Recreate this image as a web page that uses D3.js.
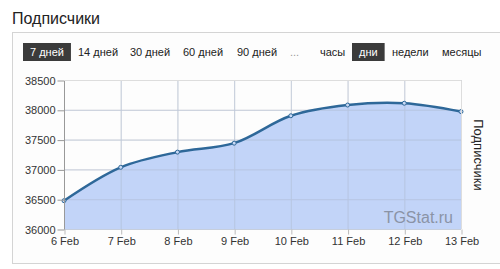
<html>
<head>
    <script src="https://d3js.org/d3.v7.min.js"></script>
    <style>
        body {
            margin: 0;
            background: #fff;
            font-family: "Liberation Sans", Arial, Helvetica, sans-serif;
        }
        svg { display: block; }
    </style>
</head>
<body>
<svg id="chart"></svg>
<script>
    // data
    let dates = ["6 Feb", "7 Feb", "8 Feb", "9 Feb", "10 Feb", "11 Feb", "12 Feb", "13 Feb"];
    let subscribers = [36475, 37035, 37290, 37440, 37900, 38080, 38110, 37970];
    let yTicks = [36000, 36500, 37000, 37500, 38000, 38500];
    let periodButtons = ["7 дней", "14 дней", "30 дней", "60 дней", "90 дней", "..."];
    let unitButtons = ["часы", "дни", "недели", "месяцы"];

    let width = 500, height = 269;
    let svg = d3.select("#chart").attr("width", width).attr("height", height);

    // title
    svg.append("text")
        .attr("x", 12).attr("y", 24)
        .attr("font-size", 16).attr("fill", "#222")
        .text("Подписчики");

    // panel
    svg.append("rect")
        .attr("x", 12.5).attr("y", 32.5)
        .attr("width", 500).attr("height", 231)
        .attr("fill", "#fdfdfd")
        .attr("stroke", "#d4d4d4");

    // buttons
    function drawButtons(labels, xs, active) {
        let g = svg.append("g");
        labels.forEach((t, i) => {
            let txt = g.append("text")
                .attr("x", xs[i]).attr("y", 56)
                .attr("font-size", 11)
                .attr("fill", t == "..." ? "#999" : "#222")
                .text(t);
            if (t == active) {
                let w = txt.node().getComputedTextLength();
                g.insert("rect", "text")
                    .attr("x", xs[i] - 7).attr("y", 43)
                    .attr("width", w + 14).attr("height", 18)
                    .attr("fill", "#3b3b3b");
                txt.attr("fill", "#fff");
            }
        });
    }
    drawButtons(periodButtons, [30, 78, 130, 183, 237, 290], "7 дней");
    drawButtons(unitButtons, [320, 359, 392, 442], "дни");

    let margin = {left: 64, right: 39, top: 80, bottom: 40};
    let x = d3.scalePoint().domain(dates).range([64, 461]);
    let y = d3.scaleLinear().domain([36000, 38500]).range([229, 80]);

    // grid
    svg.append("g").selectAll("line").data(yTicks).enter().append("line")
        .attr("x1", 64).attr("x2", 461)
        .attr("y1", d => y(d) + 0.5).attr("y2", d => y(d) + 0.5)
        .attr("stroke", "#ddd");
    svg.append("g").selectAll("line").data(dates).enter().append("line")
        .attr("x1", d => x(d) + 0.5).attr("x2", d => x(d) + 0.5)
        .attr("y1", 80).attr("y2", 229)
        .attr("stroke", "#ddd");

    let curve = d3.curveCatmullRom.alpha(0.5);
    let area = d3.area()
        .x((d, i) => x(dates[i]))
        .y0(y(36000))
        .y1(d => y(d))
        .curve(curve);
    let line = d3.line()
        .x((d, i) => x(dates[i]))
        .y(d => y(d))
        .curve(curve);

    svg.append("path").datum(subscribers)
        .attr("d", area)
        .attr("fill", "#aec6f5")
        .attr("fill-opacity", 0.75);

    // grid over the fill, faint
    svg.append("g").selectAll("line").data(dates).enter().append("line")
        .attr("x1", d => x(d) + 0.5).attr("x2", d => x(d) + 0.5)
        .attr("y1", 80).attr("y2", 229)
        .attr("stroke", "#b8c4dc").attr("stroke-opacity", 0.6);
    svg.append("g").selectAll("line").data(yTicks).enter().append("line")
        .attr("x1", 64).attr("x2", 461)
        .attr("y1", d => y(d) + 0.5).attr("y2", d => y(d) + 0.5)
        .attr("stroke", "#b8c4dc").attr("stroke-opacity", 0.6);

    // watermark
    svg.append("text")
        .attr("x", 453).attr("y", 223)
        .attr("text-anchor", "end")
        .attr("font-size", 16).attr("fill", "#8a93a6")
        .text("TGStat.ru");

    svg.append("path").datum(subscribers)
        .attr("d", line)
        .attr("fill", "none")
        .attr("stroke", "#2e6899")
        .attr("stroke-width", 2.5);

    svg.append("g").selectAll("circle").data(subscribers).enter().append("circle")
        .attr("cx", (d, i) => x(dates[i]))
        .attr("cy", d => y(d))
        .attr("r", 2)
        .attr("fill", "#c9d9f5")
        .attr("stroke", "#2e6899")
        .attr("stroke-width", 1);

    // axes
    let yAxis = d3.axisLeft(y).tickValues(yTicks).tickSize(7).tickPadding(2).tickFormat(d3.format("d"));
    let yg = svg.append("g").attr("transform", "translate(64.5,0.5)").call(yAxis);
    yg.select(".domain").attr("stroke", "#999").attr("d", "M0,80V229");
    yg.selectAll(".tick line").attr("stroke", "#999");
    yg.selectAll("text").attr("font-size", 11).attr("fill", "#333")
        .attr("font-family", "'Liberation Sans', Arial, sans-serif");

    let xAxis = d3.axisBottom(x).tickSize(5).tickPadding(3);
    let xg = svg.append("g").attr("transform", "translate(0.5,229.5)").call(xAxis);
    xg.select(".domain").remove();
    xg.selectAll(".tick line").attr("stroke", "#bbb");
    xg.selectAll("text").attr("font-size", 11).attr("fill", "#333")
        .attr("font-family", "'Liberation Sans', Arial, sans-serif");

    // plot border right/top
    svg.append("path")
        .attr("d", "M64,80.5H461.5V229")
        .attr("fill", "none").attr("stroke", "#ddd");

    // rotated axis title
    svg.append("text")
        .attr("transform", "translate(474,155) rotate(90)")
        .attr("text-anchor", "middle")
        .attr("font-size", 13).attr("fill", "#222")
        .text("Подписчики");
</script>
</body>
</html>
